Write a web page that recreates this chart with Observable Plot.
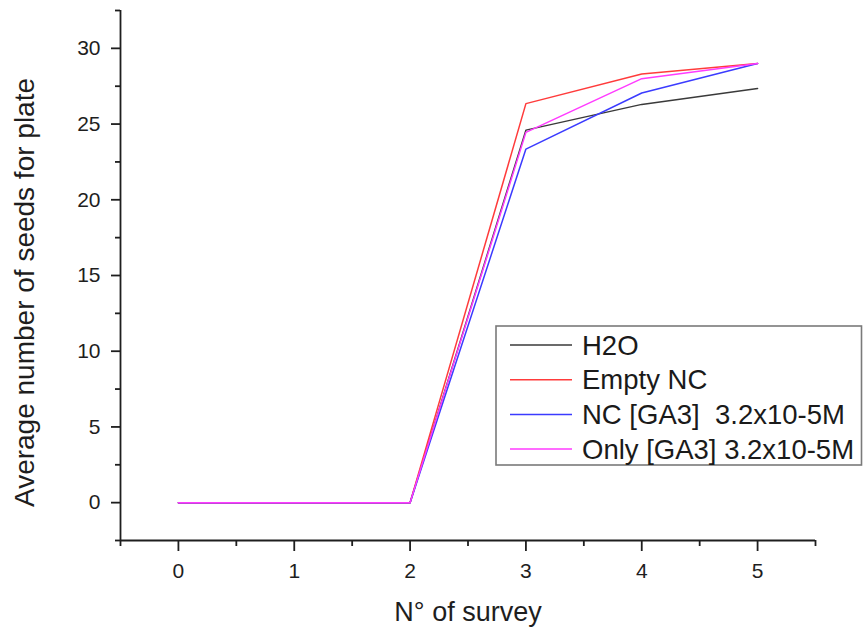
<!DOCTYPE html>
<html>
<head>
<meta charset="utf-8">
<script src="https://cdn.jsdelivr.net/npm/d3@7"></script>
<script src="https://cdn.jsdelivr.net/npm/@observablehq/plot@0.6"></script>
<style>
  html, body { margin: 0; padding: 0; background: #fff; overflow: hidden; }
  #chart { width: 863px; height: 628px; position: relative; }
  svg { font-family: "Liberation Sans", Arial, sans-serif; }
</style>
</head>
<body>
<div id="chart"></div>
<script>
// ---- data ----
const surveys = [0, 1, 2, 3, 4, 5];
const seriesNames = ["H2O", "Empty NC", "NC [GA3]  3.2x10-5M", "Only [GA3] 3.2x10-5M"];
const seriesColors = ["#3a3a3a", "#ff3b3b", "#3b3bff", "#ff3bff"];
const h2o     = [0, 0, 0, 24.6, 26.3, 27.35];
const emptyNC = [0, 0, 0, 26.35, 28.3, 29.0];
const ncGA3   = [0, 0, 0, 23.35, 27.05, 29.0];
const onlyGA3 = [0, 0, 0, 24.45, 28.0, 29.0];
const yTicks = [0, 5, 10, 15, 20, 25, 30];
const yMinorTicks = [-2.5, 2.5, 7.5, 12.5, 17.5, 22.5, 27.5, 32.5];
const xTicks = [0, 1, 2, 3, 4, 5];
const xMinorTicks = [-0.5, 0.5, 1.5, 2.5, 3.5, 4.5, 5.5];

const allSeries = [h2o, emptyNC, ncGA3, onlyGA3];
const rows = [];
allSeries.forEach((vals, k) => {
  vals.forEach((v, i) => rows.push({series: seriesNames[k], survey: surveys[i], value: v}));
});

const axisColor = "#1e1e1e";

const chart = Plot.plot({
  width: 863,
  height: 628,
  marginLeft: 120,
  marginRight: 48,
  marginTop: 10,
  marginBottom: 88,
  style: {fontFamily: '"Liberation Sans", Arial, sans-serif', color: axisColor, background: "#fff"},
  x: {domain: [-0.5, 5.5]},
  y: {domain: [-2.5, 32.5]},
  color: {domain: seriesNames, range: seriesColors},
  marks: [
    Plot.ruleX([-0.5], {stroke: axisColor, strokeWidth: 1.8}),
    Plot.ruleY([-2.5], {stroke: axisColor, strokeWidth: 1.8}),
    Plot.axisY({ticks: yTicks, tickSize: 9, tickPadding: 11, tickFormat: "d", fontSize: 21, label: null, strokeWidth: 1.8}),
    Plot.axisY({ticks: yMinorTicks, tickSize: 5, tickFormat: () => "", label: null, strokeWidth: 1.8}),
    Plot.axisX({ticks: xTicks, tickSize: 11, tickPadding: 12, tickFormat: "d", fontSize: 21, label: null, strokeWidth: 1.8}),
    Plot.axisX({ticks: xMinorTicks, tickSize: 6, tickFormat: () => "", label: null, strokeWidth: 1.8}),
    Plot.line(rows, {x: "survey", y: "value", z: "series", stroke: "series", strokeWidth: 1.5}),
    Plot.text(["Average number of seeds for plate"], {frameAnchor: "left", dx: -95, dy: 17, rotate: -90, textAnchor: "middle", lineAnchor: "middle", fontSize: 28, fill: axisColor}),
    Plot.text(["N° of survey"], {frameAnchor: "bottom", dy: 72, lineAnchor: "middle", textAnchor: "middle", fontSize: 27, fill: axisColor})
  ]
});

document.getElementById("chart").appendChild(chart);

// ---- legend (drawn inside the SVG) ----
const svg = d3.select(chart);
const lg = svg.append("g").attr("class", "legend").attr("text-anchor", "start");
lg.append("rect")
  .attr("x", 496).attr("y", 326).attr("width", 365.5).attr("height", 139)
  .attr("fill", "#fff").attr("stroke", "#7a7a7a").attr("stroke-width", 1.6);
seriesNames.forEach((name, k) => {
  const cy = 345 + k * 34.7;
  lg.append("line")
    .attr("x1", 510).attr("x2", 572).attr("y1", cy).attr("y2", cy)
    .attr("stroke", seriesColors[k]).attr("stroke-width", 1.5);
  lg.append("text")
    .attr("x", 582).attr("y", cy).attr("dy", "0.35em")
    .attr("text-anchor", "start")
    .attr("font-size", 27.5).attr("fill", "#1a1a1a")
    .style("white-space", "pre")
    .attr("xml:space", "preserve")
    .text(name);
});
</script>
</body>
</html>
